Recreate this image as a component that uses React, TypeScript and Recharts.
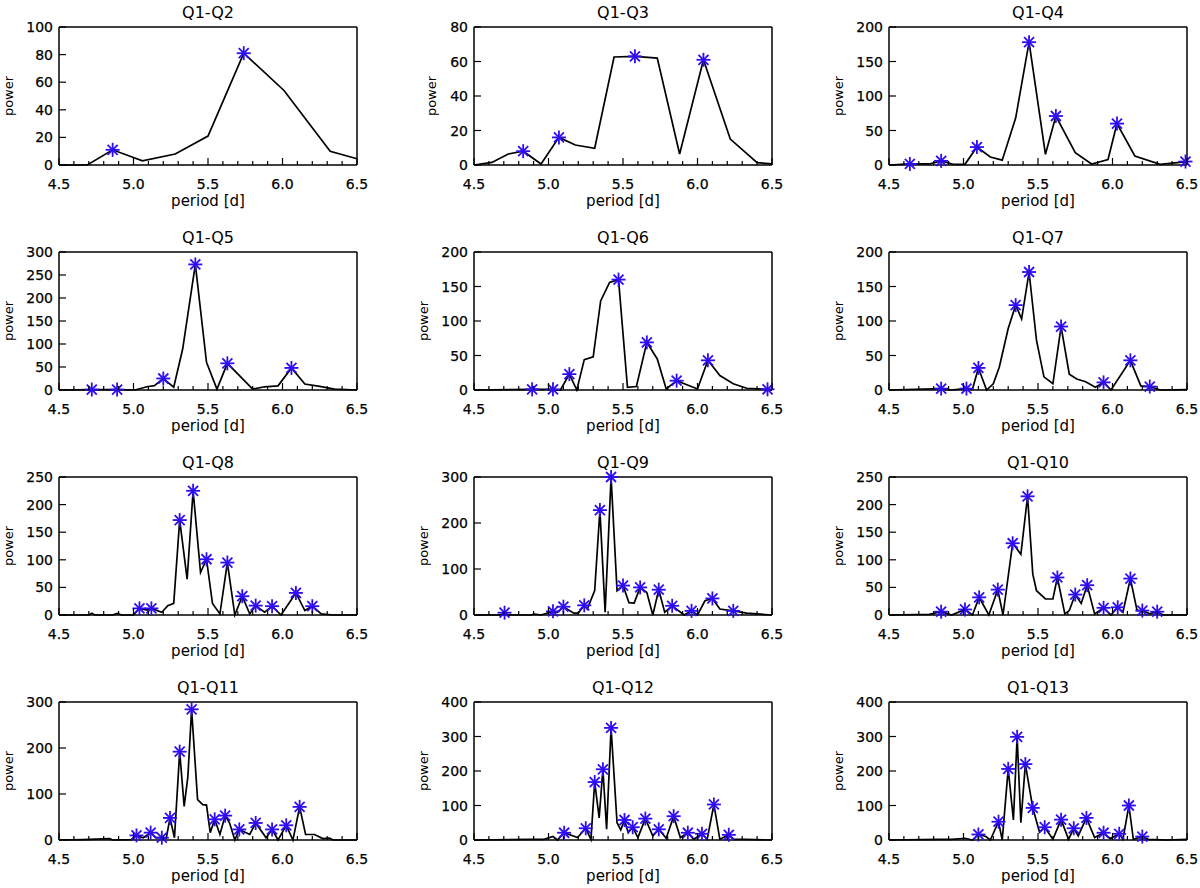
import React from "react";
import { ComposedChart, Line, Scatter, XAxis, YAxis, Label } from "recharts";

// period axis ticks (days)
const xMajor = [4.5, 5.0, 5.5, 6.0, 6.5];
const xMinor = [4.6, 4.7, 4.8, 4.9, 5.1, 5.2, 5.3, 5.4, 5.6, 5.7, 5.8, 5.9, 6.1, 6.2, 6.3, 6.4];
const xTicks = [...xMajor, ...xMinor].sort((a, b) => a - b);

// power axis ticks
const ticks80 = [0, 20, 40, 60, 80];
const ticks100 = [0, 20, 40, 60, 80, 100];
const ticks200 = [0, 50, 100, 150, 200];
const ticks250 = [0, 50, 100, 150, 200, 250];
const ticks300a = [0, 50, 100, 150, 200, 250, 300];
const ticks300b = [0, 100, 200, 300];
const ticks400 = [0, 100, 200, 300, 400];

// [period, power] — periodogram curves and marked peaks
const q2Line = [[4.5, 0], [4.69, 0], [4.86, 11], [5.06, 3], [5.28, 8], [5.5, 21], [5.74, 81], [6.01, 54], [6.32, 10], [6.5, 4.5]];
const q2Peaks = [[4.86, 11], [5.74, 81]];

const q3Line = [[4.5, 0], [4.62, 1.5], [4.73, 6.4], [4.83, 8], [4.95, 0.6], [5.07, 16], [5.18, 11.6], [5.31, 9.7], [5.44, 62.6], [5.58, 63], [5.73, 62], [5.88, 6.4], [6.04, 61], [6.22, 15], [6.4, 1.4], [6.5, 0.6]];
const q3Peaks = [[4.83, 8], [5.07, 16], [5.58, 63], [6.04, 61]];

const q4Line = [[4.5, 0], [4.64, 1.5], [4.77, 1.5], [4.85, 6], [4.93, 1], [5.01, 1], [5.09, 26], [5.18, 11.6], [5.26, 7], [5.35, 68], [5.44, 178], [5.55, 15.5], [5.62, 71], [5.75, 18], [5.86, 1.5], [5.97, 8], [6.03, 60], [6.15, 13], [6.32, 1], [6.5, 5]];
const q4Peaks = [[4.64, 1.5], [4.85, 6], [5.09, 26], [5.44, 178], [5.62, 71], [6.03, 60], [6.49, 5]];

const q5Line = [[4.5, 0], [4.72, 1], [4.89, 1], [5.01, 0], [5.09, 7], [5.14, 9.4], [5.2, 25], [5.27, 6], [5.33, 89], [5.415, 273], [5.49, 60], [5.56, 2], [5.63, 58], [5.8, 2], [5.88, 7], [5.97, 9], [6.06, 48], [6.15, 13], [6.25, 8], [6.35, 2], [6.5, 0]];
const q5Peaks = [[4.72, 1], [4.89, 1], [5.2, 25], [5.415, 273], [5.63, 58], [6.06, 48]];

const q6Line = [[4.5, 0], [4.89, 1], [5.03, 1], [5.08, 0], [5.14, 23], [5.19, 0], [5.24, 44], [5.3, 48], [5.35, 129], [5.41, 156], [5.47, 160], [5.53, 4], [5.59, 5], [5.66, 69], [5.73, 45], [5.79, 1.5], [5.86, 13.5], [6.0, 1.5], [6.07, 43], [6.15, 21], [6.24, 9], [6.33, 2.5], [6.47, 1], [6.5, 0]];
const q6Peaks = [[4.89, 1], [5.03, 1], [5.14, 23], [5.47, 160], [5.66, 69], [5.86, 13.5], [6.07, 43], [6.47, 1]];

const q7Line = [[4.5, 0], [4.85, 2], [4.91, 0], [5.02, 2], [5.06, 1], [5.1, 32], [5.155, 0], [5.2, 9], [5.24, 33], [5.3, 89], [5.35, 123], [5.39, 103], [5.44, 171], [5.49, 72], [5.54, 19], [5.6, 9], [5.655, 92], [5.71, 23], [5.76, 16], [5.82, 12], [5.885, 4], [5.94, 11], [5.99, 0], [6.12, 43], [6.19, 6], [6.25, 5], [6.32, 0], [6.5, 0.5]];
const q7Peaks = [[4.85, 2], [5.02, 2], [5.1, 32], [5.35, 123], [5.44, 171], [5.655, 92], [5.94, 11], [6.12, 43], [6.25, 5]];

const q8Line = [[4.5, 0], [4.7, 0], [4.72, 3], [4.74, 0], [4.86, 0], [4.89, 3], [4.92, 0], [5.0, 0], [5.04, 12], [5.09, 9], [5.12, 12], [5.19, 5], [5.23, 17], [5.27, 21], [5.31, 172], [5.36, 65], [5.4, 225], [5.45, 77], [5.49, 101], [5.53, 21], [5.58, 2], [5.63, 95], [5.68, 0], [5.73, 34], [5.78, 2], [5.82, 17], [5.88, 5], [5.93, 16], [5.99, 0], [6.09, 40], [6.15, 8], [6.2, 16], [6.26, 2], [6.34, 0], [6.5, 0]];
const q8Peaks = [[5.04, 12], [5.12, 12], [5.31, 172], [5.4, 225], [5.49, 101], [5.63, 95], [5.73, 34], [5.82, 17], [5.93, 16], [6.09, 40], [6.2, 16]];

const q9Line = [[4.5, 0], [4.68, 0], [4.705, 5], [4.73, 0], [4.88, 0], [4.906, 2], [4.95, 0], [5.03, 8], [5.06, 6], [5.1, 18], [5.17, 4], [5.2, 4], [5.24, 21], [5.26, 13], [5.31, 53], [5.345, 228], [5.38, 6], [5.42, 300], [5.46, 53], [5.5, 64], [5.54, 27], [5.575, 26], [5.615, 60], [5.66, 49], [5.7, 0], [5.74, 55], [5.78, 6], [5.83, 20], [5.91, 0], [5.96, 9], [6.0, 0], [6.05, 31], [6.1, 36], [6.15, 13], [6.24, 9], [6.33, 4], [6.5, 0]];
const q9Peaks = [[4.705, 5], [5.03, 8], [5.1, 18], [5.24, 21], [5.345, 228], [5.42, 300], [5.5, 64], [5.615, 60], [5.74, 55], [5.83, 20], [5.96, 9], [6.1, 36], [6.24, 9]];

const q10Line = [[4.5, 0], [4.77, 1], [4.85, 6], [4.92, 0], [5.01, 10], [5.06, 0], [5.105, 32], [5.17, 0], [5.23, 46], [5.265, 0], [5.33, 130], [5.385, 110], [5.43, 215], [5.465, 74], [5.49, 44], [5.55, 29], [5.6, 29], [5.63, 68], [5.68, 2], [5.71, 8], [5.75, 37], [5.79, 21], [5.83, 54], [5.88, 2], [5.94, 13], [5.99, 0], [6.035, 14], [6.07, 5], [6.12, 66], [6.165, 8], [6.2, 8], [6.25, 2], [6.3, 6], [6.34, 0], [6.5, 0]];
const q10Peaks = [[4.85, 6], [5.01, 10], [5.105, 32], [5.23, 46], [5.33, 130], [5.43, 215], [5.63, 68], [5.75, 37], [5.83, 54], [5.94, 13], [6.035, 14], [6.12, 66], [6.2, 8], [6.3, 6]];

const q11Line = [[4.5, 0], [4.66, 1], [4.84, 3], [4.86, 0], [4.985, 1], [5.02, 10], [5.065, 5], [5.115, 16], [5.15, 5], [5.19, 5], [5.22, 4], [5.245, 48], [5.275, 5], [5.31, 192], [5.34, 73], [5.365, 138], [5.39, 284], [5.43, 88], [5.465, 77], [5.49, 76], [5.515, 16], [5.545, 45], [5.58, 12], [5.615, 53], [5.645, 37], [5.68, 0], [5.71, 23], [5.78, 12], [5.82, 37], [5.89, 5], [5.93, 23], [5.97, 0], [6.025, 32], [6.07, 0], [6.115, 72], [6.155, 12], [6.215, 12], [6.27, 3], [6.315, 4], [6.34, 0], [6.5, 0]];
const q11Peaks = [[5.02, 10], [5.115, 16], [5.19, 5], [5.245, 48], [5.31, 192], [5.39, 284], [5.545, 45], [5.615, 53], [5.71, 23], [5.82, 37], [5.93, 23], [6.025, 32], [6.115, 72]];

const q12Line = [[4.5, 0], [4.86, 2], [4.97, 2], [5.03, 10], [5.06, 0], [5.105, 21], [5.195, 7], [5.25, 34], [5.285, 2], [5.31, 168], [5.34, 64], [5.365, 205], [5.39, 31], [5.42, 325], [5.46, 50], [5.485, 29], [5.51, 58], [5.535, 21], [5.565, 37], [5.6, 7], [5.65, 62], [5.7, 12], [5.74, 31], [5.79, 5], [5.84, 69], [5.885, 7], [5.935, 21], [5.975, 2], [6.03, 18], [6.065, 2], [6.11, 103], [6.15, 2], [6.21, 15], [6.245, 2], [6.33, 2], [6.5, 0]];
const q12Peaks = [[5.105, 21], [5.25, 34], [5.31, 168], [5.365, 205], [5.42, 325], [5.51, 58], [5.565, 37], [5.65, 62], [5.74, 31], [5.84, 69], [5.935, 21], [6.03, 18], [6.11, 103], [6.21, 15]];

const q13Line = [[4.5, 0], [4.83, 2], [4.92, 2], [5.01, 5], [5.06, 0], [5.1, 16], [5.15, 10], [5.18, 0], [5.235, 53], [5.26, 0], [5.3, 206], [5.335, 58], [5.36, 299], [5.385, 50], [5.415, 220], [5.465, 93], [5.51, 23], [5.545, 37], [5.6, 2], [5.655, 59], [5.705, 2], [5.74, 34], [5.77, 12], [5.825, 64], [5.88, 7], [5.94, 21], [5.985, 4], [6.045, 18], [6.07, 2], [6.11, 100], [6.14, 2], [6.2, 10], [6.24, 2], [6.365, 0], [6.5, 2]];
const q13Peaks = [[5.1, 16], [5.235, 53], [5.3, 206], [5.36, 299], [5.415, 220], [5.465, 93], [5.545, 37], [5.655, 59], [5.74, 34], [5.825, 64], [5.94, 21], [6.045, 18], [6.11, 100], [6.2, 10]];

const panels = [
  { title: "Q1-Q2", line: q2Line, peaks: q2Peaks, yTicks: ticks100 },
  { title: "Q1-Q3", line: q3Line, peaks: q3Peaks, yTicks: ticks80 },
  { title: "Q1-Q4", line: q4Line, peaks: q4Peaks, yTicks: ticks200 },
  { title: "Q1-Q5", line: q5Line, peaks: q5Peaks, yTicks: ticks300a },
  { title: "Q1-Q6", line: q6Line, peaks: q6Peaks, yTicks: ticks200 },
  { title: "Q1-Q7", line: q7Line, peaks: q7Peaks, yTicks: ticks200 },
  { title: "Q1-Q8", line: q8Line, peaks: q8Peaks, yTicks: ticks250 },
  { title: "Q1-Q9", line: q9Line, peaks: q9Peaks, yTicks: ticks300b },
  { title: "Q1-Q10", line: q10Line, peaks: q10Peaks, yTicks: ticks250 },
  { title: "Q1-Q11", line: q11Line, peaks: q11Peaks, yTicks: ticks300b },
  { title: "Q1-Q12", line: q12Line, peaks: q12Peaks, yTicks: ticks400 },
  { title: "Q1-Q13", line: q13Line, peaks: q13Peaks, yTicks: ticks400 },
];

const FONT = "DejaVu Sans";
const STAR = "#2d0df2";
// thin outline so the tick text looks as heavy as the vector font of the original
const textStyle = { fontFamily: FONT, fill: "#000", stroke: "#000", strokeWidth: 0.25 };
const titleStyle = { fontFamily: FONT, fill: "#000" };

const isMajor = (v: number) => xMajor.some((m) => Math.abs(m - v) < 1e-6);

// ticks point inward, IDL style
const BottomTick = (p: any) => {
  const major = isMajor(p.payload.value);
  return (
    <g>
      <line x1={p.x} x2={p.x} y1={p.y} y2={p.y - (major ? 7 : 4)} stroke="#000" strokeWidth={1.2} />
      {major && (
        <text x={p.x} y={p.y + 24} textAnchor="middle" fontSize={14} {...textStyle}>
          {p.payload.value.toFixed(1)}
        </text>
      )}
    </g>
  );
};

const TopTick = (p: any) => {
  const major = isMajor(p.payload.value);
  return <line x1={p.x} x2={p.x} y1={p.y} y2={p.y + (major ? 7 : 4)} stroke="#000" strokeWidth={1.2} />;
};

const LeftTick = (p: any) => (
  <g>
    <line x1={p.x} x2={p.x + 7} y1={p.y} y2={p.y} stroke="#000" strokeWidth={1.2} />
    <text x={p.x - 6} y={p.y + 5} textAnchor="end" fontSize={14} {...textStyle}>
      {p.payload.value}
    </text>
  </g>
);

const RightTick = (p: any) => <line x1={p.x} x2={p.x - 7} y1={p.y} y2={p.y} stroke="#000" strokeWidth={1.2} />;

const Star = (p: any) => {
  const { cx, cy } = p;
  const r = 7;
  const d = 5;
  return (
    <g stroke={STAR} strokeWidth={1.8}>
      <line x1={cx} x2={cx} y1={cy - r} y2={cy + r} />
      <line x1={cx - r} x2={cx + r} y1={cy} y2={cy} />
      <line x1={cx - d} x2={cx + d} y1={cy - d} y2={cy + d} />
      <line x1={cx - d} x2={cx + d} y1={cy + d} y2={cy - d} />
    </g>
  );
};

const axisLine = { stroke: "#000", strokeWidth: 1.5 };

function Panel({ panel, col, row }: { panel: (typeof panels)[number]; col: number; row: number }) {
  const ymax = panel.yTicks[panel.yTicks.length - 1];
  const lineData = panel.line.map(([x, y]) => ({ x, y }));
  const peakData = panel.peaks.map(([x, y]) => ({ x, y }));
  const labelLen = String(ymax).length;

  return (
    <div style={{ position: "absolute", left: col * 415, top: row * 225, width: 370, height: 222 }}>
      <ComposedChart width={370} height={222} margin={{ top: 26, right: 12, bottom: 12, left: 0 }}>
        <XAxis
          xAxisId="b"
          dataKey="x"
          type="number"
          domain={[4.5, 6.5]}
          ticks={xTicks}
          interval={0}
          height={45}
          tickSize={0}
          tickMargin={0}
          tickLine={false}
          axisLine={axisLine}
          tick={BottomTick}
        >
          <Label
            content={(lp: any) => (
              <text
                x={lp.viewBox.x + lp.viewBox.width / 2}
                y={lp.viewBox.y + 41}
                textAnchor="middle"
                fontSize={15}
                {...titleStyle}
              >
                period [d]
              </text>
            )}
          />
        </XAxis>
        <XAxis
          xAxisId="t"
          orientation="top"
          type="number"
          domain={[4.5, 6.5]}
          ticks={xTicks}
          interval={0}
          height={1}
          tickSize={0}
          tickMargin={0}
          tickLine={false}
          axisLine={axisLine}
          tick={TopTick}
        >
          <Label
            content={(lp: any) => (
              <text
                x={lp.viewBox.x + lp.viewBox.width / 2}
                y={lp.viewBox.y + lp.viewBox.height - 9}
                textAnchor="middle"
                fontSize={16}
                {...titleStyle}
              >
                {panel.title}
              </text>
            )}
          />
        </XAxis>
        <YAxis
          yAxisId="l"
          dataKey="y"
          type="number"
          domain={[0, ymax]}
          ticks={panel.yTicks}
          interval={0}
          width={59}
          tickSize={0}
          tickMargin={0}
          tickLine={false}
          axisLine={axisLine}
          tick={LeftTick}
        >
          <Label
            content={(lp: any) => {
              const bx = lp.viewBox.x + lp.viewBox.width - (22.5 + 8 * labelLen);
              const cy = lp.viewBox.y + lp.viewBox.height / 2;
              return (
                <text
                  x={bx}
                  y={cy}
                  transform={`rotate(-90 ${bx} ${cy})`}
                  textAnchor="middle"
                  fontSize={13}
                  {...titleStyle}
                >
                  power
                </text>
              );
            }}
          />
        </YAxis>
        <YAxis
          yAxisId="r"
          orientation="right"
          type="number"
          domain={[0, ymax]}
          ticks={panel.yTicks}
          interval={0}
          width={1}
          tickSize={0}
          tickMargin={0}
          tickLine={false}
          axisLine={axisLine}
          tick={RightTick}
        />
        <Line
          xAxisId="b"
          yAxisId="l"
          data={lineData}
          dataKey="y"
          type="linear"
          stroke="#000"
          strokeWidth={1.7}
          dot={false}
          isAnimationActive={false}
        />
        <Scatter
          xAxisId="b"
          yAxisId="l"
          data={peakData}
          dataKey="y"
          shape={Star}
          isAnimationActive={false}
        />
      </ComposedChart>
    </div>
  );
}

export default function App() {
  return (
    <div
      style={{
        position: "fixed",
        left: 0,
        top: 0,
        width: 1200,
        height: 888,
        background: "#fff",
        overflow: "hidden",
        fontFamily: FONT,
      }}
    >
      {panels.map((panel, i) => (
        <Panel key={panel.title} panel={panel} col={i % 3} row={Math.floor(i / 3)} />
      ))}
    </div>
  );
}
